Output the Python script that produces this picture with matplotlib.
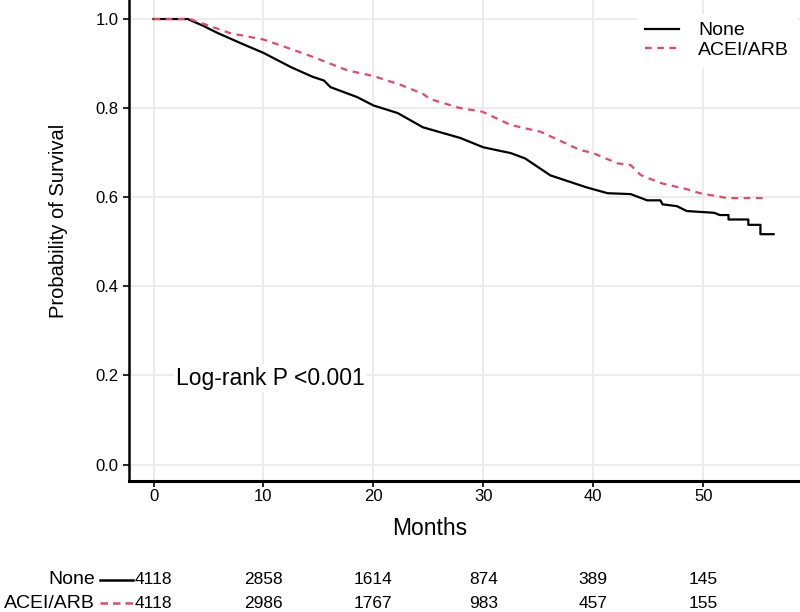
import matplotlib
matplotlib.use('Agg')
import matplotlib.pyplot as plt
from matplotlib.lines import Line2D
from matplotlib.transforms import blended_transform_factory

plt.rcParams['font.family'] = ['Liberation Sans', 'DejaVu Sans']

# Kaplan-Meier curves (months, survival)
none_t = [0, 3.1, 4.5, 5.8, 8.0, 10.0, 12.5, 14.5, 15.5, 16.1, 18.5, 20.0, 22.2,
          24.5, 27.9, 30.0, 32.5, 33.8, 36.1, 39.4, 41.3, 43.4, 44.9, 46.1,
          46.3, 47.6, 48.5, 51.0, 51.5, 52.3, 52.3, 54.1, 54.1, 55.2, 55.2, 56.4]
none_s = [1.0, 1.0, 0.985, 0.969, 0.945, 0.924, 0.892, 0.870, 0.862, 0.847, 0.825,
          0.806, 0.789, 0.757, 0.733, 0.712, 0.699, 0.687, 0.649, 0.622, 0.609,
          0.607, 0.593, 0.593, 0.584, 0.580, 0.569, 0.565, 0.560, 0.560, 0.550,
          0.550, 0.538, 0.538, 0.517, 0.517]

acei_t = [0, 3.3, 7.0, 10.0, 12.0, 14.5, 17.6, 20.0, 22.5, 24.5, 25.2, 27.9,
          29.9, 32.5, 35.2, 38.8, 40.0, 42.2, 43.4, 44.3, 45.8, 46.4, 48.5,
          49.7, 52.2, 55.8]
acei_s = [1.0, 1.0, 0.968, 0.954, 0.937, 0.915, 0.885, 0.872, 0.852, 0.832,
          0.820, 0.800, 0.792, 0.762, 0.747, 0.706, 0.699, 0.676, 0.672, 0.650,
          0.635, 0.630, 0.618, 0.609, 0.598, 0.598]

risk_times = [0, 10, 20, 30, 40, 50]
risk_none = [4118, 2858, 1614, 874, 389, 145]
risk_acei = [4118, 2986, 1767, 983, 457, 155]

RED = '#E8476A'

fig = plt.figure(figsize=(8, 6.12), dpi=100)
ax = fig.add_axes([129 / 800, 1 - 481 / 612, 671 / 800, 481 / 612])

ax.plot(none_t, none_s, color='black', lw=1.6, label='None')
ax.plot(acei_t, acei_s, color=RED, lw=1.6, ls=(0, (3, 2.5)), label='ACEI/ARB')

ax.set_xlim(-2.23, 58.8)
ax.set_ylim(-0.037, 1.0427)
ax.set_xticks(risk_times)
ax.set_yticks([0.0, 0.2, 0.4, 0.6, 0.8, 1.0])
ax.set_yticklabels(['0.0', '0.2', '0.4', '0.6', '0.8', '1.0'])
ax.grid(True, color='#EBEBEB', lw=1.3)
ax.set_axisbelow(True)
for s in ['top', 'right']:
    ax.spines[s].set_visible(False)
ax.spines['left'].set_linewidth(1.8)
ax.spines['bottom'].set_linewidth(2.2)
ax.tick_params(axis='both', labelsize=12, length=4, width=1.2, colors='black')
ax.tick_params(axis='x', pad=2)

ax.set_ylabel('Probability of Survival', fontsize=14.5)
ax.yaxis.set_label_coords((68 - 129) / 671, (481 - 221) / 481)
ax.set_xlabel('Months', fontsize=16.5)
ax.xaxis.set_label_coords((430 - 129) / 671, -0.075)

leg = ax.legend(loc='upper left', bbox_to_anchor=(637 / 800, 1 - 14 / 612),
                bbox_transform=fig.transFigure, fontsize=14, frameon=True,
                fancybox=False, handlelength=1.75, handletextpad=1.0,
                labelspacing=0.1, borderpad=0.4, borderaxespad=0)
leg.get_frame().set_edgecolor('white')
leg.get_frame().set_alpha(1)

ax.text(2.0, 0.194, 'Log-rank P <0.001', fontsize=16.5, va='center', ha='left',
        bbox=dict(facecolor='white', edgecolor='none', pad=2))

# number-at-risk table below the plot
trans = blended_transform_factory(ax.transData, fig.transFigure)
rows = [('None', risk_none, 'black', '-', 1 - 580 / 612),
        ('ACEI/ARB', risk_acei, RED, (0, (3, 2)), 1 - 603 / 612)]
for name, counts, color, ls, yy in rows:
    fig.text(95 / 800, yy, name, fontsize=14, ha='right', va='center')
    fig.add_artist(Line2D([100 / 800, 133 / 800], [yy, yy], color=color,
                          lw=1.8, ls=ls, transform=fig.transFigure))
    for t, n in zip(risk_times, counts):
        ax.text(t, yy, str(n), fontsize=12.5, ha='center', va='center',
                transform=trans)

fig.savefig('out.png', dpi=100)
